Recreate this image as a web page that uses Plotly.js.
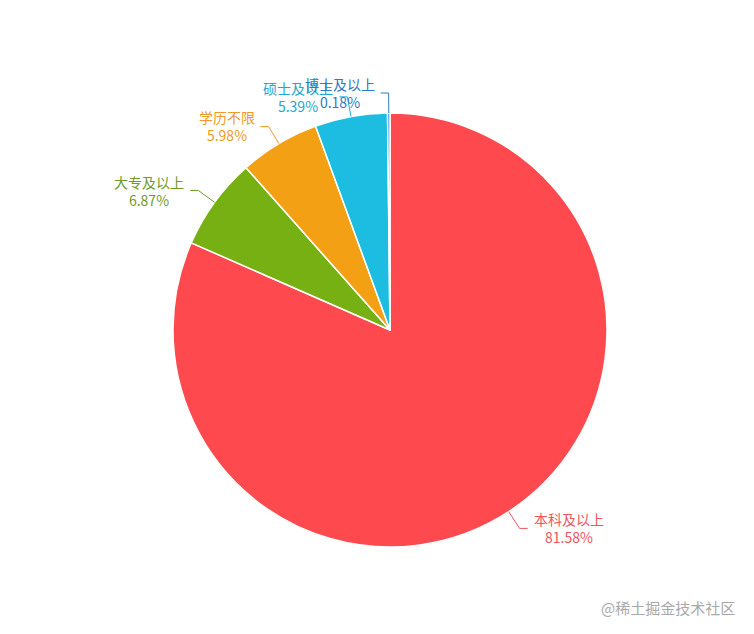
<!DOCTYPE html>
<html>
<head>
<meta charset="utf-8">
<script src="https://cdn.plot.ly/plotly-3.0.1.min.js"></script>
<style>
  html, body { margin: 0; padding: 0; background: #fff; }
  #chart { width: 754px; height: 634px; }
</style>
</head>
<body>
<div id="chart"></div>
<script>
    // --- DATA ---
    const categories = ['本科及以上', '大专及以上', '学历不限', '硕士及以上', '博士及以上'];
    const shares = [81.58, 6.87, 5.98, 5.39, 0.18];
    const sliceColors = ['#fe4a4f', '#76b012', '#f4a015', '#1cbde0', '#2a86c8'];
    const labelColors = ['#ee5560', '#6e9a2a', '#ee9a2a', '#22a8d0', '#2a7cc0'];

    // --- LAYOUT GEOMETRY (pixels) ---
    const W = 754, H = 634;
    const cx = 390, cy = 330, R = 217;
    const len1 = 20, len2 = 8, gap = 4;

    const px = x => x / W;
    const py = y => 1 - y / H;

    // Leader lines + labels from slice mid angles
    const total = shares.reduce((a, b) => a + b, 0);
    const shapes = [];
    const annotations = [];
    let cum = 0;
    shares.forEach((v, i) => {
        const mid = (cum + v / 2) / total * 2 * Math.PI;
        cum += v;
        const s = Math.sin(mid), c = Math.cos(mid);
        const side = s >= 0 ? 1 : -1;
        const x0 = cx + R * s, y0 = cy - R * c;
        const x1 = cx + (R + len1) * s, y1 = cy - (R + len1) * c;
        const x2 = x1 + side * len2;
        const path = `M ${px(x0)} ${py(y0)} L ${px(x1)} ${py(y1)} L ${px(x2)} ${py(y1)}`;
        shapes.push({
            type: 'path', xref: 'paper', yref: 'paper', path: path,
            line: { color: labelColors[i], width: 1 }
        });
        annotations.push({
            xref: 'paper', yref: 'paper',
            x: px(x2 + side * gap), y: py(y1),
            xanchor: side > 0 ? 'left' : 'right', yanchor: 'middle',
            align: 'center', showarrow: false,
            text: categories[i] + '<br>' + v.toFixed(2) + '%',
            font: { family: '"Noto Sans CJK SC", "Noto Sans", sans-serif', size: 14, color: labelColors[i] }
        });
    });

    // watermark
    annotations.push({
        xref: 'paper', yref: 'paper', x: px(737), y: py(607),
        xanchor: 'right', yanchor: 'middle', showarrow: false,
        text: '@稀土掘金技术社区',
        font: { family: '"Noto Sans CJK SC", sans-serif', size: 15, color: '#a8a8a8' }
    });

    const pieData = [{
        type: 'pie',
        labels: categories,
        values: shares,
        sort: false,
        direction: 'clockwise',
        rotation: 0,
        textinfo: 'none',
        hoverinfo: 'label+percent',
        marker: { colors: sliceColors, line: { color: '#ffffff', width: 1.5 } },
        domain: { x: [px(cx - R), px(cx + R)], y: [py(cy + R), py(cy - R)] }
    }];

    const layout = {
        width: W, height: H,
        margin: { l: 0, r: 0, t: 0, b: 0 },
        showlegend: false,
        paper_bgcolor: '#ffffff',
        shapes: shapes,
        annotations: annotations
    };

    Plotly.newPlot('chart', pieData, layout, { displayModeBar: false });
</script>
</body>
</html>
